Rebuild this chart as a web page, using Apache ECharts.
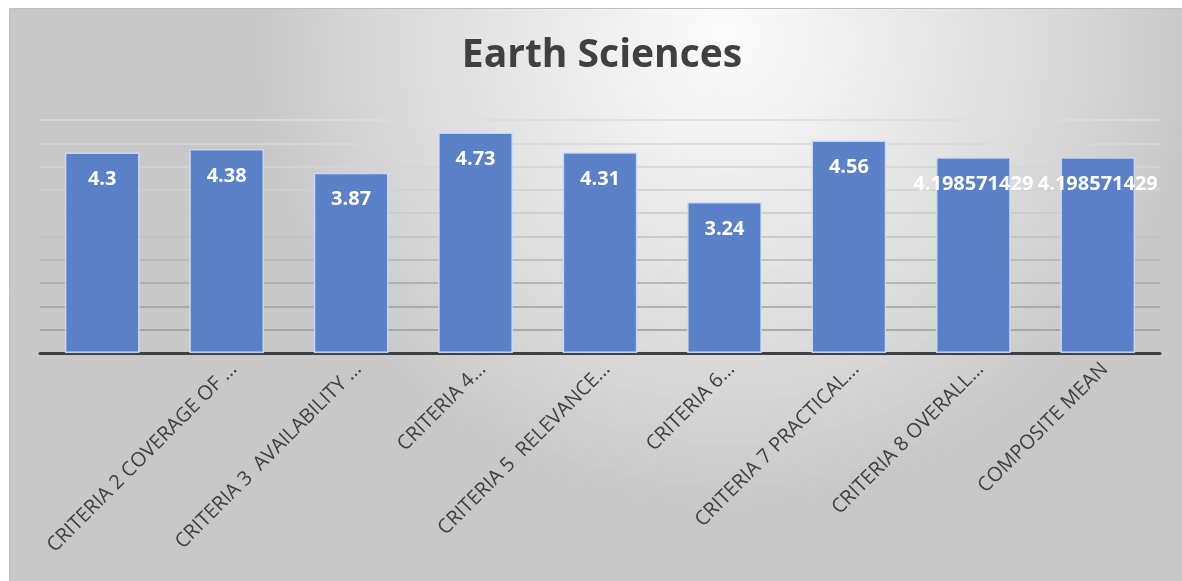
<!DOCTYPE html>
<html>
<head>
<meta charset="utf-8">
<script src="https://cdn.jsdelivr.net/npm/echarts@6/dist/echarts.min.js"></script>
<style>
html,body{margin:0;padding:0;background:#fff;}
#chart{width:1182px;height:581px;}
</style>
</head>
<body>
<div id="chart"></div>
<script>
const titleText = 'Earth Sciences';
const categories = [
  'CRITERIA 1',
  'CRITERIA 2 COVERAGE OF …',
  'CRITERIA 3  AVAILABILITY …',
  'CRITERIA 4…',
  'CRITERIA 5  RELEVANCE…',
  'CRITERIA 6…',
  'CRITERIA 7 PRACTICAL…',
  'CRITERIA 8 OVERALL…',
  'COMPOSITE MEAN'
];
const values = [4.3, 4.38, 3.87, 4.73, 4.31, 3.24, 4.56, 4.198571429, 4.198571429];
const yMin = 0, yMax = 5, yStep = 0.5;

const gridColors = ['#909090','#9a9a9a','#a0a0a0','#a8a8a8','#b4b4b4','#c0c0c0','#cacaca','#d0d0d0','#d4d4d4','#d8d8d8','#dcdcdc'];

const chart = echarts.init(document.getElementById('chart'));
chart.setOption({
  animation: false,
  graphic: [{
    type: 'rect',
    z: -10,
    silent: true,
    shape: {x: 9.5, y: 8.5, width: 1190, height: 590},
    style: {
      fill: new echarts.graphic.RadialGradient(0.6, 0.05, 0.8, [
        {offset: 0, color: '#fbfbfb'},
        {offset: 0.5, color: '#e4e4e4'},
        {offset: 1, color: '#c8c8c8'}
      ]),
      stroke: '#c0c0c0',
      lineWidth: 1
    }
  }],
  title: {
    text: titleText,
    left: 597,
    textAlign: 'center',
    top: 31,
    textStyle: {fontFamily: 'Open Sans', fontSize: 39, fontWeight: 'bold', color: '#404040'}
  },
  grid: {left: 40, right: 22, top: 120, bottom: 228, containLabel: false},
  xAxis: {
    type: 'category',
    data: categories,
    axisLine: {show: true, lineStyle: {color: '#404040', width: 3}},
    axisTick: {show: false},
    axisLabel: {
      rotate: 45,
      interval: 0,
      margin: 6,
      align: 'right',
      verticalAlign: 'top',
      fontFamily: 'Open Sans',
      fontSize: 20,
      color: '#404040',
      formatter: function (v, i) { return i === 0 ? '' : v; }
    }
  },
  yAxis: {
    type: 'value',
    min: yMin, max: yMax, interval: yStep,
    axisLine: {show: false},
    axisTick: {show: false},
    axisLabel: {show: false},
    splitLine: {show: true, lineStyle: {color: gridColors, width: 1.5}}
  },
  series: [{
    type: 'bar',
    data: values,
    barWidth: '60%',
    itemStyle: {color: '#5a80c8', borderColor: 'rgba(205,220,245,0.9)', borderWidth: 1.5},
    label: {
      show: true,
      position: 'insideTop',
      distance: 17,
      color: '#ffffff',
      fontFamily: 'Open Sans',
      fontWeight: 'bold',
      fontSize: 20,
      formatter: function (p) { return String(p.value); }
    }
  }]
});
</script>
</body>
</html>
